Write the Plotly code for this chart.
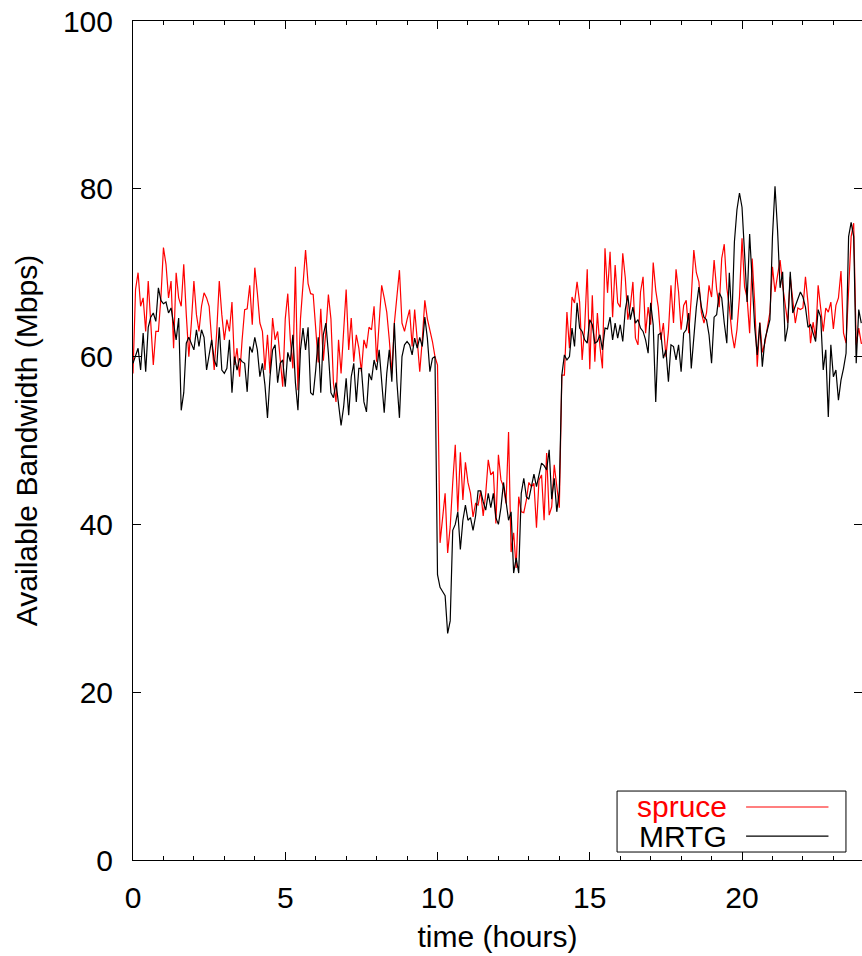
import numpy as np
import plotly.graph_objects as go

# ---- data (5-minute samples, Mbps) ----
SAMPLES_PER_HOUR = 12

spruce = [
    58, 68, 70, 66, 67, 63, 69, 64, 59, 63,
    63, 67, 73, 71, 67, 69, 61, 70, 67, 66,
    71, 65, 60, 64, 69, 65, 63, 66, 67.6, 67,
    66, 62, 58.4, 63, 69, 65, 62, 64.4, 63, 66.5,
    59, 61, 57.6, 62, 65.6, 65.7, 68.5, 63.8, 70.6, 67.6,
    64, 63, 58.4, 62.6, 58, 64.6, 62, 63, 60, 56.4,
    64.5, 67.5, 62, 58.6, 70.7, 56, 64.5, 69, 72.7, 68.7,
    67.5, 67.4, 63, 59.3, 65.7, 59.5, 63, 67.4, 64.5, 56.8,
    54.6, 62, 58, 63, 68, 60.8, 64.6, 59.4, 62.6, 61,
    58.2, 62, 61, 63.5, 63.2, 66, 59.4, 64, 68.5, 67,
    65.3, 62, 58, 64, 67, 70.3, 64, 63, 64.4, 65.6,
    61.2, 65.6, 62, 58.2, 62, 66.7, 64.5, 63.2, 61.8, 60,
    59,
    37.8, 40.9, 43.7, 36.6, 39.7, 45, 49.5, 41.5, 48.6, 42.9,
    47.4, 45, 43.7, 40.9, 42.5, 42.3, 44, 41, 43.7, 47.7,
    45.9, 46.3, 40.1, 48.3, 45.3, 44.5, 42.5, 51, 36.7, 39,
    34.8, 43.3, 41.5, 41.4, 42.9, 45, 44.5, 44.9, 39.6, 45.3,
    45.9, 40.5, 48.5, 41.1, 42.1, 47.1, 44.5, 42,
    57.8, 57.8, 65.3, 61, 67.1, 66.4, 68.9, 66.5, 59.6, 63.5,
    70.4, 58.5, 67.3, 59.4, 65.2, 61.2, 58.6, 72.9, 67.6, 72.5,
    64.7, 70.9, 66.4, 65.9, 72.3, 69.4, 64.4, 66, 68.9, 62.2,
    61.4, 67.7, 69.5, 62.8, 65.9, 63.8, 71.2, 67.9, 65.9, 62,
    64, 60, 63, 68.5, 64, 70.4, 67.7, 63.2, 66.1, 66.7,
    62.8, 67, 72.7, 70, 68.9, 65.2, 64, 65.2, 68.5, 67.1,
    71.5, 68, 65.9, 71.7, 73.4, 68.2, 65.9, 62.8, 61, 63.2,
    67.1, 74.1, 68.3, 67, 62.8, 71.7, 66.4, 58.8, 64.1, 60.5,
    61.6, 63.5, 65.3, 70.7, 67.7, 69.7, 71.5, 68.5, 65.9, 64,
    69.5, 67.1, 64, 65.8, 65.6, 65.8, 69.5, 66.4, 61.6, 64.1,
    62.2, 68.5, 65.8, 63, 65.8, 65.3, 66.5, 63.3, 66.1, 67,
    70.2, 62.8, 61.6, 68, 74.3, 75.9, 61.4, 63.4, 61.6, 61.5,
]

mrtg = [
    59.2, 60, 61, 58.4, 62.8, 58.2, 63.5, 64.7, 65.2, 64.2,
    68.2, 66.7, 66.3, 66.5, 65.2, 65.8, 63.8, 62, 64.6, 53.6,
    55.7, 61.6, 62.3, 61.6, 60.8, 63.2, 61.2, 63.2, 62.3, 58.4,
    60, 62, 59.6, 58.8, 63.5, 58.4, 58, 58.6, 62, 55.7,
    60, 58.4, 59.8, 59.4, 59.2, 55.8, 61.2, 60.5, 62.3, 60.8,
    57.6, 59.2, 56.6, 52.7, 57.6, 60.8, 61.4, 56.9, 59.2, 59.6,
    56.4, 60.5, 59.4,
    62.6, 56.9, 53.6, 60.8, 63.4, 60.8, 63.5,
    55.7, 55.4, 58.4, 62.3, 55.7, 62.6, 64, 60.4, 55.7, 55.1,
    56.9, 54.6, 51.8, 54, 57.4, 53, 57.6, 59.2, 54.6, 58.6,
    58.6, 54.6, 53.4, 58, 57.2, 59.6, 58.4, 60.8, 57, 53.3,
    58, 60.8, 57, 64, 57, 52.7, 60, 61.4, 61.8, 61.4,
    60.2, 62.2, 61, 62.3, 61.2, 64.7, 62.2, 58.2, 59.8, 60,
    34, 32.5, 32, 31.5, 27, 28.5, 39.3, 40, 41.5, 37,
    40.5, 42.3, 40.5, 40.8, 39.3, 41, 44, 44, 42.7, 41.7,
    43.7, 42, 43.7, 40.8, 40, 42, 45, 43, 40.5, 41.5,
    34.2, 36, 34.2, 43.7, 45.5, 43.3, 43, 44.5, 46, 44.5,
    46, 47.3, 47, 46.5, 48.9, 43, 45.5, 41.5, 44,
    57.8,
    60.2, 59.6, 60, 63.4, 61.2, 66.4, 63.4, 63, 62, 61.6,
    64.4, 63.8, 61.6, 61.8, 62.6, 60.8, 63.4, 63.3, 64.7, 62,
    64, 62.2, 63.8, 61.8, 65.6, 67.3, 64.4, 65.9, 64, 64.4,
    63.4, 63, 62, 60.4, 66.4, 63.8, 54.6, 62.6, 62.8, 59.8,
    60.8, 57, 61.4, 61.2, 59.6, 61.4, 58.2, 62.8, 63.2, 65.2,
    58.6, 62.8, 65.9, 68.3, 65.9, 64.7, 64.4, 62.6, 59.2, 64.7,
    65, 67.6, 67, 64, 61.6, 70, 64.4, 73.7, 77.5, 79.5,
    77.8, 72.3, 66.5, 74.6, 69.1, 63.5, 60.2, 64, 58.8, 62,
    63.2, 64.4, 74.3, 80.3, 75.1, 68.2, 70.1, 61.8, 63.5, 70.1,
    65.2, 66.1, 67, 67.7, 67.1, 65.9, 63.5, 63.8, 62.8, 61.8,
    65.6, 64.7, 58.4, 60.8, 52.8, 61.4, 57.6, 58.4, 54.8, 57.2,
    58.6, 60.4, 74.3, 76, 74.3, 59.2, 65.6,
    64,
]

series_names = ["spruce", "MRTG"]
series_colors = ["#ff0000", "#000000"]
x_tick_vals = [0, 5, 10, 15, 20]
y_tick_vals = [0, 20, 40, 60, 80, 100]
x_range = [0, 23.94]
y_range = [0, 100]

t_spruce = np.arange(len(spruce)) / SAMPLES_PER_HOUR
t_mrtg = np.arange(len(mrtg)) / SAMPLES_PER_HOUR

FONT = "Liberation Sans, Arial, Helvetica, sans-serif"
FS = 30

fig = go.Figure()
fig.add_trace(go.Scatter(x=t_spruce, y=spruce, mode="lines", name=series_names[0],
                         line=dict(color=series_colors[0], width=1.2)))
fig.add_trace(go.Scatter(x=t_mrtg, y=mrtg, mode="lines", name=series_names[1],
                         line=dict(color=series_colors[1], width=1.2)))

axis_common = dict(
    showline=True, linecolor="black", linewidth=1, mirror="ticks",
    ticks="inside", ticklen=8, tickcolor="black", tickwidth=1,
    showgrid=False, zeroline=False,
    tickfont=dict(family=FONT, size=FS, color="black"),
)

fig.update_xaxes(
    range=x_range, tickvals=x_tick_vals, ticklabelstandoff=11,
    minor=dict(dtick=1, ticks="inside", ticklen=4, tickcolor="black", showgrid=False),
    title=dict(text="time (hours)", font=dict(family=FONT, size=FS, color="black"), standoff=12),
    **axis_common,
)
fig.update_yaxes(
    range=y_range, tickvals=y_tick_vals, ticklabelstandoff=13,
    title=dict(text="Available Bandwidth (Mbps)", font=dict(family=FONT, size=FS, color="black"), standoff=16),
    **axis_common,
)

# gnuplot-style key: text (right-justified) followed by a line sample
box_x0, box_x1, box_y0, box_y1 = 0.664, 0.978, 0.0095, 0.0822
rows_y = [0.0632, 0.0285]
fig.add_shape(type="rect", xref="paper", yref="paper", x0=box_x0, x1=box_x1, y0=box_y0, y1=box_y1,
              line=dict(color="black", width=1), fillcolor="white", layer="above")
for name, color, ry in zip(series_names, series_colors, rows_y):
    fig.add_annotation(xref="paper", yref="paper", x=0.817, y=ry, xanchor="right", yanchor="middle",
                       text=name, showarrow=False, font=dict(family=FONT, size=FS, color=color))
    fig.add_shape(type="line", xref="paper", yref="paper", x0=0.841, x1=0.954, y0=ry, y1=ry,
                  line=dict(color=color, width=1.2), layer="above")

fig.update_layout(
    width=862, height=956,
    margin=dict(l=133, r=0, t=21, b=96),
    paper_bgcolor="white", plot_bgcolor="white",
    showlegend=False,
    font=dict(family=FONT, size=FS, color="black"),
)

fig.write_html("out.html")
